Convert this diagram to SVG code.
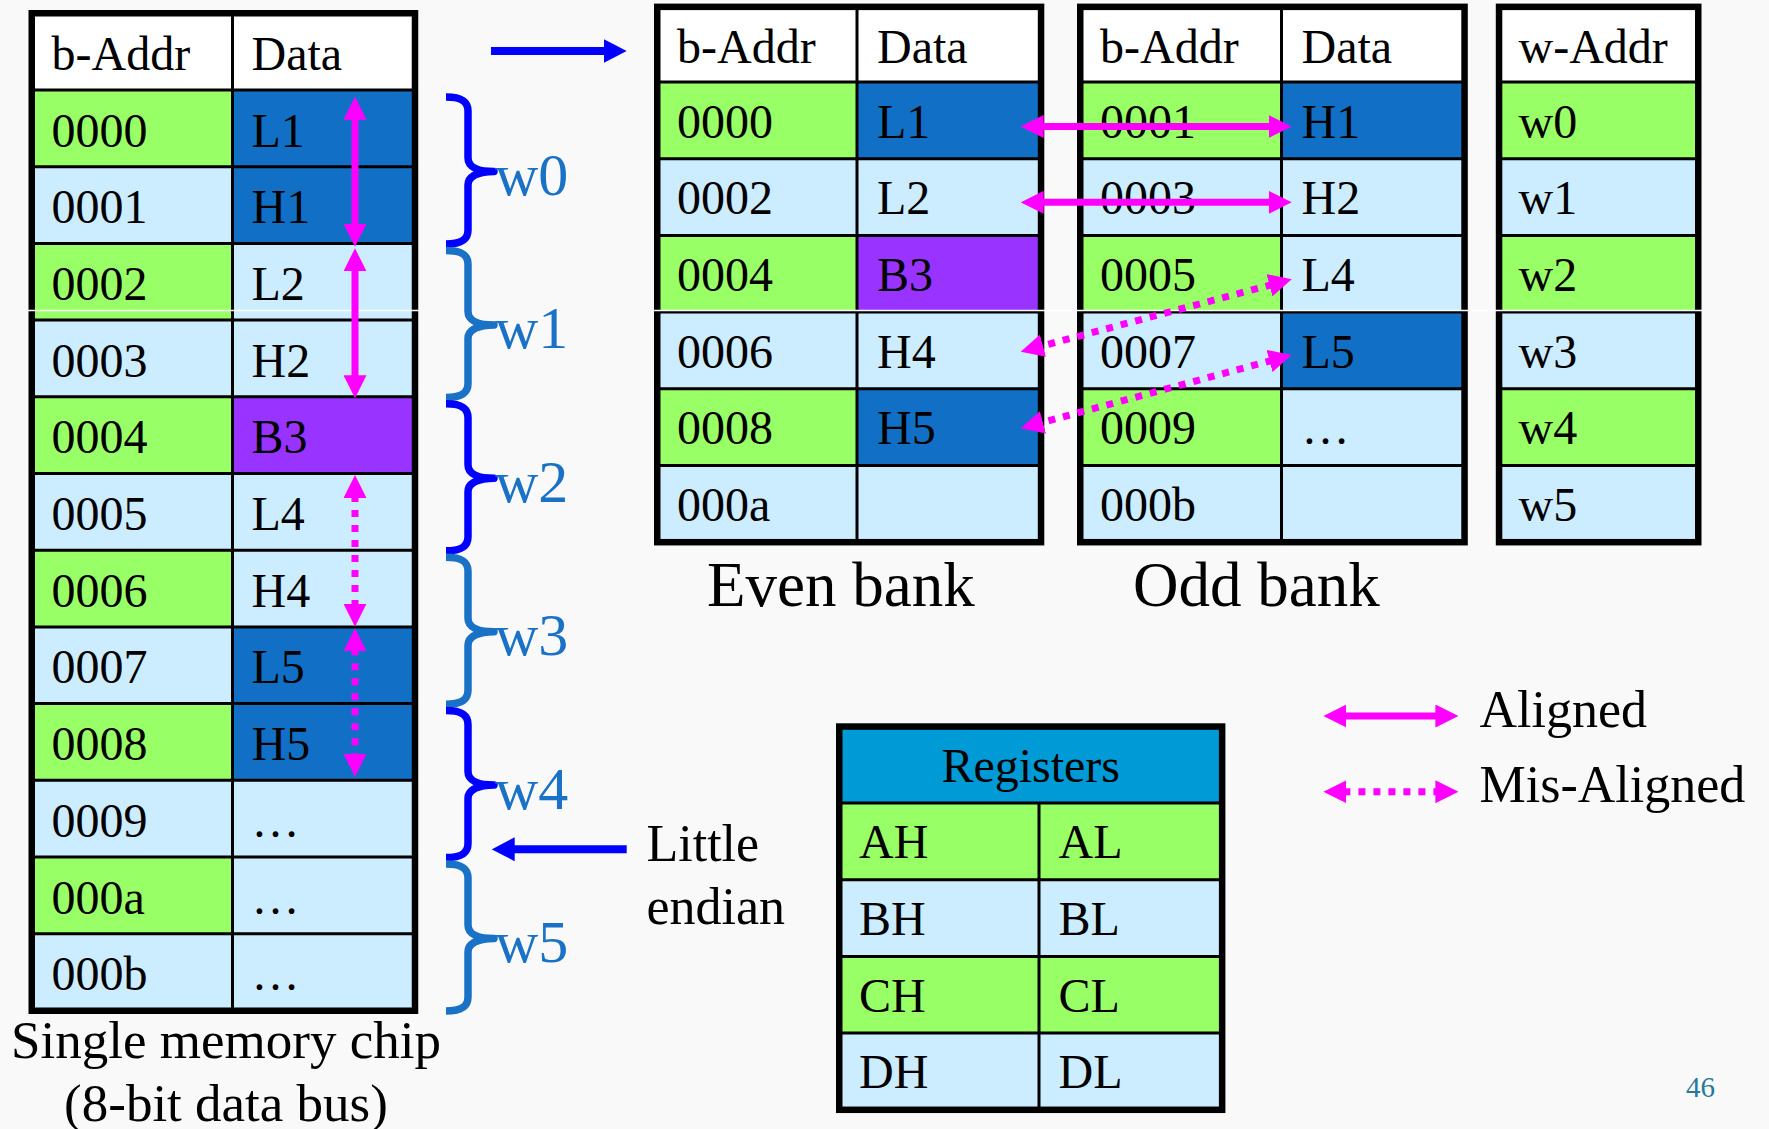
<svg xmlns="http://www.w3.org/2000/svg" width="1769" height="1129" viewBox="0 0 1769 1129">
<style>
  text{font-family:"Liberation Serif","Times New Roman",serif;fill:#000}
  .t{font-size:48px}
  .wl{font-size:60px;fill:#1A72C7}
  .cap{font-size:53px}
  .lbl{font-size:52px}
  .bank{font-size:63px}
  .num{font-size:29px;fill:#26799A}
  .mid{text-anchor:middle}
  .wh{fill:#FFFFFF}
  .gr{fill:#99FF66}
  .lb{fill:#CCECFF}
  .db{fill:#1170C6}
  .pu{fill:#9933FF}
  .hd{fill:#009AD6}
  .grid{stroke:#000;stroke-width:3;fill:none}
  .frame{stroke:#000;stroke-width:6.5;fill:none}
  .brace{fill:none;stroke-width:7.5;stroke-linejoin:round}
  .bA{stroke:#0000FF}
  .bB{stroke:#1A72C7}
  .mag{stroke:#FF00FF;stroke-width:7;fill:none}
  .dot{stroke-dasharray:7 8}
  .blue{stroke:#0000FF;stroke-width:8;fill:none}
  .seam{stroke:#FFFFFF;stroke-width:1.5}
</style>
<defs>
  <marker id="mh" viewBox="0 0 23 23" markerWidth="23" markerHeight="23" refX="3" refY="11.5" orient="auto-start-reverse" markerUnits="userSpaceOnUse">
    <path d="M0,0 L23,11.5 L0,23 Z" fill="#FF00FF"/>
  </marker>
  <marker id="bh" viewBox="0 0 23 24" markerWidth="23" markerHeight="24" refX="3" refY="12" orient="auto-start-reverse" markerUnits="userSpaceOnUse">
    <path d="M0,0 L23,12 L0,24 Z" fill="#0000FF"/>
  </marker>
  <!-- curly brace spanning two byte rows, tip pointing right -->
  <path id="brace" d="M446,0 C459,0 468,3 468,14 L468,61 C468,70 478,74.5 494,74.5 C478,75 468,79 468,88 L468,133 C468,144 459,147 446,147"/>
</defs>

<rect width="1769" height="1129" fill="#F9F9F9"/>

<!-- single memory chip -->
<g id="chip">
  <rect class="wh" x="31.75" y="13.25" width="383.25" height="76.75"/>
  <rect class="gr" x="31.75" y="90" width="200.75" height="76.7"/><rect class="db" x="232.5" y="90" width="182.5" height="76.7"/>
  <rect class="lb" x="31.75" y="166.7" width="200.75" height="76.7"/><rect class="db" x="232.5" y="166.7" width="182.5" height="76.7"/>
  <rect class="gr" x="31.75" y="243.4" width="200.75" height="76.7"/><rect class="lb" x="232.5" y="243.4" width="182.5" height="76.7"/>
  <rect class="lb" x="31.75" y="320.1" width="200.75" height="76.7"/><rect class="lb" x="232.5" y="320.1" width="182.5" height="76.7"/>
  <rect class="gr" x="31.75" y="396.8" width="200.75" height="76.7"/><rect class="pu" x="232.5" y="396.8" width="182.5" height="76.7"/>
  <rect class="lb" x="31.75" y="473.5" width="200.75" height="76.7"/><rect class="lb" x="232.5" y="473.5" width="182.5" height="76.7"/>
  <rect class="gr" x="31.75" y="550.2" width="200.75" height="76.7"/><rect class="lb" x="232.5" y="550.2" width="182.5" height="76.7"/>
  <rect class="lb" x="31.75" y="626.9" width="200.75" height="76.7"/><rect class="db" x="232.5" y="626.9" width="182.5" height="76.7"/>
  <rect class="gr" x="31.75" y="703.6" width="200.75" height="76.7"/><rect class="db" x="232.5" y="703.6" width="182.5" height="76.7"/>
  <rect class="lb" x="31.75" y="780.3" width="200.75" height="76.7"/><rect class="lb" x="232.5" y="780.3" width="182.5" height="76.7"/>
  <rect class="gr" x="31.75" y="857" width="200.75" height="76.7"/><rect class="lb" x="232.5" y="857" width="182.5" height="76.7"/>
  <rect class="lb" x="31.75" y="933.7" width="200.75" height="76.7"/><rect class="lb" x="232.5" y="933.7" width="182.5" height="76.7"/>
  <path class="grid" d="M31.75,90 H415 M31.75,166.7 H415 M31.75,243.4 H415 M31.75,320.1 H415 M31.75,396.8 H415 M31.75,473.5 H415 M31.75,550.2 H415 M31.75,626.9 H415 M31.75,703.6 H415 M31.75,780.3 H415 M31.75,857 H415 M31.75,933.7 H415 M232.5,13.25 V1010.75"/>
  <rect class="frame" x="31.75" y="13.25" width="383.25" height="997.5"/>
  <text class="t" x="51.5" y="70">b-Addr</text><text class="t" x="251.5" y="70">Data</text>
  <text class="t" x="51.5" y="146.5">0000</text><text class="t" x="251.5" y="146.5">L1</text>
  <text class="t" x="51.5" y="223.2">0001</text><text class="t" x="251.5" y="223.2">H1</text>
  <text class="t" x="51.5" y="299.9">0002</text><text class="t" x="251.5" y="299.9">L2</text>
  <text class="t" x="51.5" y="376.6">0003</text><text class="t" x="251.5" y="376.6">H2</text>
  <text class="t" x="51.5" y="453.3">0004</text><text class="t" x="251.5" y="453.3">B3</text>
  <text class="t" x="51.5" y="530">0005</text><text class="t" x="251.5" y="530">L4</text>
  <text class="t" x="51.5" y="606.7">0006</text><text class="t" x="251.5" y="606.7">H4</text>
  <text class="t" x="51.5" y="683.4">0007</text><text class="t" x="251.5" y="683.4">L5</text>
  <text class="t" x="51.5" y="760.1">0008</text><text class="t" x="251.5" y="760.1">H5</text>
  <text class="t" x="51.5" y="836.8">0009</text><text class="t" x="251.5" y="836.8">…</text>
  <text class="t" x="51.5" y="913.5">000a</text><text class="t" x="251.5" y="913.5">…</text>
  <text class="t" x="51.5" y="990.2">000b</text><text class="t" x="251.5" y="990.2">…</text>
</g>
<g id="chip-caption">
  <text class="cap mid" x="226" y="1058">Single memory chip</text>
  <text class="cap mid" x="226" y="1121">(8-bit data bus)</text>
</g>

<!-- word braces -->
<g id="words">
  <use href="#brace" class="brace bA" transform="translate(0,97)"/>
  <use href="#brace" class="brace bB" transform="translate(0,250.4)"/>
  <use href="#brace" class="brace bA" transform="translate(0,403.8)"/>
  <use href="#brace" class="brace bB" transform="translate(0,557.2)"/>
  <use href="#brace" class="brace bA" transform="translate(0,710.6)"/>
  <use href="#brace" class="brace bB" transform="translate(0,864)"/>
  <text class="wl" x="495" y="195">w0</text>
  <text class="wl" x="495" y="348.4">w1</text>
  <text class="wl" x="495" y="501.8">w2</text>
  <text class="wl" x="495" y="655.2">w3</text>
  <text class="wl" x="495" y="808.6">w4</text>
  <text class="wl" x="495" y="962">w5</text>
</g>

<!-- even bank -->
<g id="even-bank">
  <rect class="wh" x="657.25" y="6.85" width="383.8" height="75.15"/>
  <rect class="gr" x="657.25" y="82" width="199.75" height="76.7"/><rect class="db" x="857" y="82" width="184.05" height="76.7"/>
  <rect class="lb" x="657.25" y="158.7" width="199.75" height="76.7"/><rect class="lb" x="857" y="158.7" width="184.05" height="76.7"/>
  <rect class="gr" x="657.25" y="235.4" width="199.75" height="76.7"/><rect class="pu" x="857" y="235.4" width="184.05" height="76.7"/>
  <rect class="lb" x="657.25" y="312.1" width="199.75" height="76.7"/><rect class="lb" x="857" y="312.1" width="184.05" height="76.7"/>
  <rect class="gr" x="657.25" y="388.8" width="199.75" height="76.7"/><rect class="db" x="857" y="388.8" width="184.05" height="76.7"/>
  <rect class="lb" x="657.25" y="465.5" width="199.75" height="76.7"/><rect class="lb" x="857" y="465.5" width="184.05" height="76.7"/>
  <path class="grid" d="M657.25,82 H1041 M657.25,158.7 H1041 M657.25,235.4 H1041 M657.25,312.1 H1041 M657.25,388.8 H1041 M657.25,465.5 H1041 M857,6.85 V542.2"/>
  <rect class="frame" x="657.25" y="6.85" width="383.8" height="535.35"/>
  <text class="t" x="677" y="62.5">b-Addr</text><text class="t" x="877" y="62.5">Data</text>
  <text class="t" x="677" y="137.5">0000</text><text class="t" x="877" y="137.5">L1</text>
  <text class="t" x="677" y="214.2">0002</text><text class="t" x="877" y="214.2">L2</text>
  <text class="t" x="677" y="290.9">0004</text><text class="t" x="877" y="290.9">B3</text>
  <text class="t" x="677" y="367.6">0006</text><text class="t" x="877" y="367.6">H4</text>
  <text class="t" x="677" y="444.3">0008</text><text class="t" x="877" y="444.3">H5</text>
  <text class="t" x="677" y="521">000a</text>
  <text class="bank" x="707" y="606">Even bank</text>
</g>

<!-- odd bank -->
<g id="odd-bank">
  <rect class="wh" x="1080.25" y="6.85" width="384.3" height="75.15"/>
  <rect class="gr" x="1080.25" y="82" width="201.25" height="76.7"/><rect class="db" x="1281.5" y="82" width="183.05" height="76.7"/>
  <rect class="lb" x="1080.25" y="158.7" width="201.25" height="76.7"/><rect class="lb" x="1281.5" y="158.7" width="183.05" height="76.7"/>
  <rect class="gr" x="1080.25" y="235.4" width="201.25" height="76.7"/><rect class="lb" x="1281.5" y="235.4" width="183.05" height="76.7"/>
  <rect class="lb" x="1080.25" y="312.1" width="201.25" height="76.7"/><rect class="db" x="1281.5" y="312.1" width="183.05" height="76.7"/>
  <rect class="gr" x="1080.25" y="388.8" width="201.25" height="76.7"/><rect class="lb" x="1281.5" y="388.8" width="183.05" height="76.7"/>
  <rect class="lb" x="1080.25" y="465.5" width="201.25" height="76.7"/><rect class="lb" x="1281.5" y="465.5" width="183.05" height="76.7"/>
  <path class="grid" d="M1080.25,82 H1464.5 M1080.25,158.7 H1464.5 M1080.25,235.4 H1464.5 M1080.25,312.1 H1464.5 M1080.25,388.8 H1464.5 M1080.25,465.5 H1464.5 M1281.5,6.85 V542.2"/>
  <rect class="frame" x="1080.25" y="6.85" width="384.3" height="535.35"/>
  <text class="t" x="1100" y="62.5">b-Addr</text><text class="t" x="1301.5" y="62.5">Data</text>
  <text class="t" x="1100" y="137.5">0001</text><text class="t" x="1301.5" y="137.5">H1</text>
  <text class="t" x="1100" y="214.2">0003</text><text class="t" x="1301.5" y="214.2">H2</text>
  <text class="t" x="1100" y="290.9">0005</text><text class="t" x="1301.5" y="290.9">L4</text>
  <text class="t" x="1100" y="367.6">0007</text><text class="t" x="1301.5" y="367.6">L5</text>
  <text class="t" x="1100" y="444.3">0009</text><text class="t" x="1301.5" y="444.3">…</text>
  <text class="t" x="1100" y="521">000b</text>
  <text class="bank" x="1133" y="606">Odd bank</text>
</g>

<!-- word addresses -->
<g id="word-addr">
  <rect class="wh" x="1499.05" y="6.85" width="199.2" height="75.15"/>
  <rect class="gr" x="1499.05" y="82" width="199.2" height="76.7"/>
  <rect class="lb" x="1499.05" y="158.7" width="199.2" height="76.7"/>
  <rect class="gr" x="1499.05" y="235.4" width="199.2" height="76.7"/>
  <rect class="lb" x="1499.05" y="312.1" width="199.2" height="76.7"/>
  <rect class="gr" x="1499.05" y="388.8" width="199.2" height="76.7"/>
  <rect class="lb" x="1499.05" y="465.5" width="199.2" height="76.7"/>
  <path class="grid" d="M1499.05,82 H1698.25 M1499.05,158.7 H1698.25 M1499.05,235.4 H1698.25 M1499.05,312.1 H1698.25 M1499.05,388.8 H1698.25 M1499.05,465.5 H1698.25"/>
  <rect class="frame" x="1499.05" y="6.85" width="199.2" height="535.35"/>
  <text class="t" x="1518.5" y="62.5">w-Addr</text>
  <text class="t" x="1518.5" y="137.5">w0</text>
  <text class="t" x="1518.5" y="214.2">w1</text>
  <text class="t" x="1518.5" y="290.9">w2</text>
  <text class="t" x="1518.5" y="367.6">w3</text>
  <text class="t" x="1518.5" y="444.3">w4</text>
  <text class="t" x="1518.5" y="521">w5</text>
</g>

<!-- thin light seam running across the tables -->
<path class="seam" d="M27,310.5 H420 M652,310.5 H1703"/>

<!-- registers -->
<g id="registers">
  <rect class="hd" x="839.25" y="726.55" width="382.9" height="76.45"/>
  <rect class="gr" x="839.25" y="803" width="382.9" height="76.7"/>
  <rect class="lb" x="839.25" y="879.7" width="382.9" height="76.7"/>
  <rect class="gr" x="839.25" y="956.4" width="382.9" height="76.7"/>
  <rect class="lb" x="839.25" y="1033.1" width="382.9" height="76.7"/>
  <path class="grid" d="M839.25,803 H1222 M839.25,879.7 H1222 M839.25,956.4 H1222 M839.25,1033.1 H1222 M1039,803 V1109.8"/>
  <rect class="frame" x="839.25" y="726.55" width="382.9" height="383.25"/>
  <text class="t mid" x="1030.7" y="781.7">Registers</text>
  <text class="t" x="859" y="858">AH</text><text class="t" x="1058.5" y="858">AL</text>
  <text class="t" x="859" y="935">BH</text><text class="t" x="1058.5" y="935">BL</text>
  <text class="t" x="859" y="1011.7">CH</text><text class="t" x="1058.5" y="1011.7">CL</text>
  <text class="t" x="859" y="1088">DH</text><text class="t" x="1058.5" y="1088">DL</text>
</g>

<g id="little-endian">
  <text class="lbl" x="646.5" y="861">Little</text>
  <text class="lbl" x="646.5" y="923.5">endian</text>
</g>

<g id="legend">
  <text class="lbl" x="1479.5" y="726.7">Aligned</text>
  <text class="lbl" x="1479.5" y="801.7">Mis-Aligned</text>
</g>

<text class="num" x="1686" y="1096.7">46</text>

<!-- connectors -->
<g id="connectors">
  <line class="blue" x1="491" y1="51" x2="606.7" y2="51" marker-end="url(#bh)"/>
  <line class="blue" x1="626.7" y1="849.3" x2="511.7" y2="849.3" marker-end="url(#bh)"/>

  <line class="mag" x1="355" y1="116.7" x2="355" y2="226.7" marker-start="url(#mh)" marker-end="url(#mh)"/>
  <line class="mag" x1="355" y1="268.3" x2="355" y2="378.3" marker-start="url(#mh)" marker-end="url(#mh)"/>
  <line class="mag dot" x1="355" y1="495" x2="355" y2="606.7" marker-start="url(#mh)" marker-end="url(#mh)"/>
  <line class="mag dot" x1="355" y1="648.3" x2="355" y2="756.7" marker-start="url(#mh)" marker-end="url(#mh)"/>

  <line class="mag" x1="1040.7" y1="126.5" x2="1271.7" y2="126.5" marker-start="url(#mh)" marker-end="url(#mh)"/>
  <line class="mag" x1="1040.7" y1="202.3" x2="1271.7" y2="202.3" marker-start="url(#mh)" marker-end="url(#mh)"/>
  <line class="mag dot" x1="1272.4" y1="284.5" x2="1040" y2="346.5" marker-start="url(#mh)" marker-end="url(#mh)"/>
  <line class="mag dot" x1="1272.4" y1="360.2" x2="1040" y2="423.1" marker-start="url(#mh)" marker-end="url(#mh)"/>

  <line class="mag" x1="1343.4" y1="716" x2="1438.4" y2="716" marker-start="url(#mh)" marker-end="url(#mh)"/>
  <line class="mag dot" x1="1343.4" y1="791.7" x2="1438.4" y2="791.7" marker-start="url(#mh)" marker-end="url(#mh)"/>
</g>
</svg>
